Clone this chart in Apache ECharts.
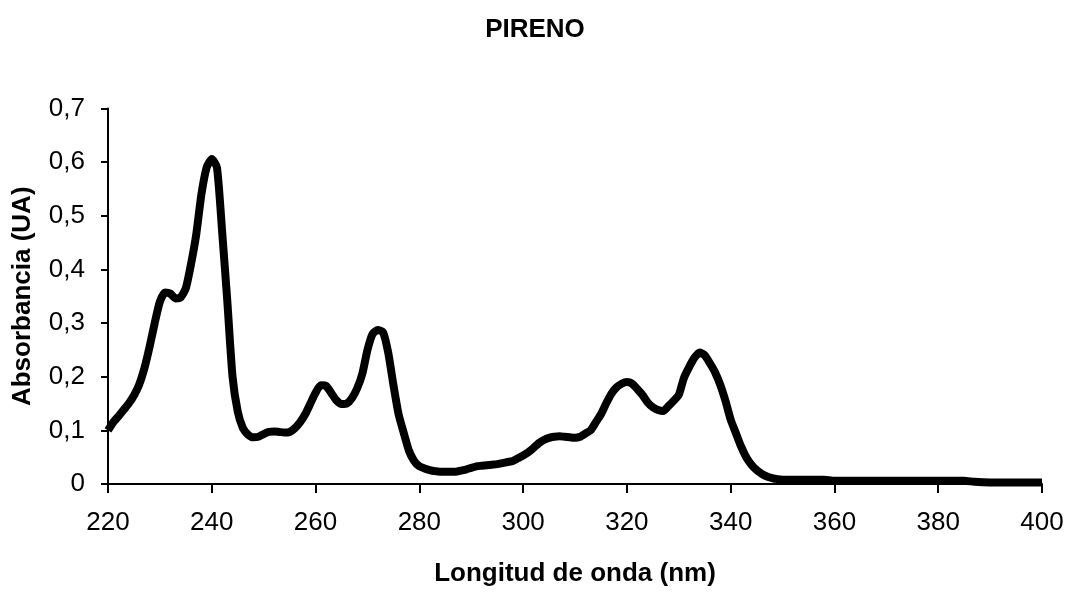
<!DOCTYPE html>
<html>
<head>
<meta charset="utf-8">
<script src="https://cdn.jsdelivr.net/npm/echarts@6/dist/echarts.min.js"></script>
<style>
html,body{margin:0;padding:0;background:#fff;}
#chart{width:1070px;height:592px;}
</style>
</head>
<body>
<div id="chart"></div>
<script>
var titleText = 'PIRENO';
var xAxisName = 'Longitud de onda (nm)';
var yAxisName = 'Absorbancia (UA)';
var xTicks = [220, 240, 260, 280, 300, 320, 340, 360, 380, 400];
var yTicks = [0, 0.1, 0.2, 0.3, 0.4, 0.5, 0.6, 0.7];

var wavelength = [
220,221,222,223,224,225,226,227,228,229,
230,231,232,233,234,235,236,237,238,239,
240,241,242,243,244,245,246,247,248,249,
250,251,252,253,254,255,256,257,258,259,
260,261,262,263,264,265,266,267,268,269,
270,271,272,273,274,275,276,277,278,279,
280,281,282,283,284,285,286,287,288,289,
290,291,292,293,294,295,296,297,298,299,
300,301,302,303,304,305,306,307,308,309,
310,311,312,313,314,315,316,317,318,319,
320,321,322,323,324,325,326,327,328,329,
330,331,332,333,334,335,336,337,338,339,
340,341,342,343,344,345,346,347,348,349,
350,352,354,356,358,360,365,370,375,380,
385,387,390,395,400
];
var absorbance = [
0.100,0.115,0.126,0.138,0.150,0.165,0.185,0.215,0.255,0.300,
0.340,0.357,0.355,0.346,0.348,0.365,0.410,0.465,0.540,0.590,
0.606,0.590,0.470,0.340,0.200,0.135,0.104,0.092,0.087,0.088,
0.093,0.097,0.098,0.097,0.096,0.097,0.104,0.115,0.130,0.150,
0.170,0.184,0.183,0.170,0.156,0.149,0.150,0.160,0.178,0.205,
0.250,0.280,0.287,0.283,0.245,0.185,0.130,0.095,0.062,0.043,
0.033,0.029,0.026,0.024,0.023,0.023,0.023,0.023,0.025,0.027,
0.030,0.033,0.034,0.035,0.036,0.037,0.039,0.041,0.043,0.048,
0.053,0.059,0.067,0.076,0.082,0.086,0.088,0.089,0.088,0.087,
0.086,0.088,0.094,0.100,0.115,0.130,0.150,0.168,0.180,0.187,
0.190,0.187,0.177,0.166,0.152,0.143,0.138,0.136,0.145,0.155,
0.166,0.198,0.218,0.235,0.245,0.240,0.225,0.208,0.185,0.155,
0.120,0.095,0.070,0.050,0.036,0.026,0.019,0.014,0.011,0.009,
0.008,0.008,0.008,0.008,0.008,0.006,0.006,0.006,0.006,0.006,
0.006,0.004,0.003,0.003,0.003
];

var seriesData = wavelength.map(function (w, i) { return [w, absorbance[i]]; });

var chart = echarts.init(document.getElementById('chart'), null, {renderer: 'canvas'});
var font = 'Liberation Sans, Arial, sans-serif';
chart.setOption({
  animation: false,
  backgroundColor: '#ffffff',
  title: {
    text: titleText,
    left: 'center',
    top: 12,
    textStyle: {fontFamily: font, fontSize: 26, fontWeight: 'bold', color: '#000'}
  },
  grid: {left: 108, right: 28, top: 108.5, bottom: 105.5, containLabel: false},
  xAxis: {
    type: 'value',
    min: xTicks[0],
    max: xTicks[xTicks.length - 1],
    interval: xTicks[1] - xTicks[0],
    name: xAxisName,
    nameLocation: 'middle',
    nameGap: 77,
    nameTextStyle: {fontFamily: font, fontSize: 26, fontWeight: 'bold', color: '#000'},
    axisLine: {show: true, onZero: false, lineStyle: {color: '#000', width: 2}},
    axisTick: {show: true, length: 9, lineStyle: {color: '#000', width: 2}},
    axisLabel: {fontFamily: font, fontSize: 26, color: '#000', margin: 26},
    splitLine: {show: false}
  },
  yAxis: {
    type: 'value',
    min: yTicks[0],
    max: yTicks[yTicks.length - 1],
    interval: 0.1,
    name: yAxisName,
    nameLocation: 'middle',
    nameGap: 72,
    nameRotate: 90,
    nameTextStyle: {fontFamily: font, fontSize: 26, fontWeight: 'bold', color: '#000'},
    axisLine: {show: true, lineStyle: {color: '#000', width: 2}},
    axisTick: {show: true, length: 7, lineStyle: {color: '#000', width: 2}},
    axisLabel: {
      fontFamily: font, fontSize: 26, color: '#000', margin: 23,
      formatter: function (v) { return v === 0 ? '0' : v.toFixed(1).replace('.', ','); }
    },
    splitLine: {show: false}
  },
  series: [{
    type: 'line',
    data: seriesData,
    showSymbol: false,
    symbol: 'none',
    smooth: 0.2,
    lineStyle: {color: '#000', width: 8, join: 'round'}
  }]
});
</script>
</body>
</html>
